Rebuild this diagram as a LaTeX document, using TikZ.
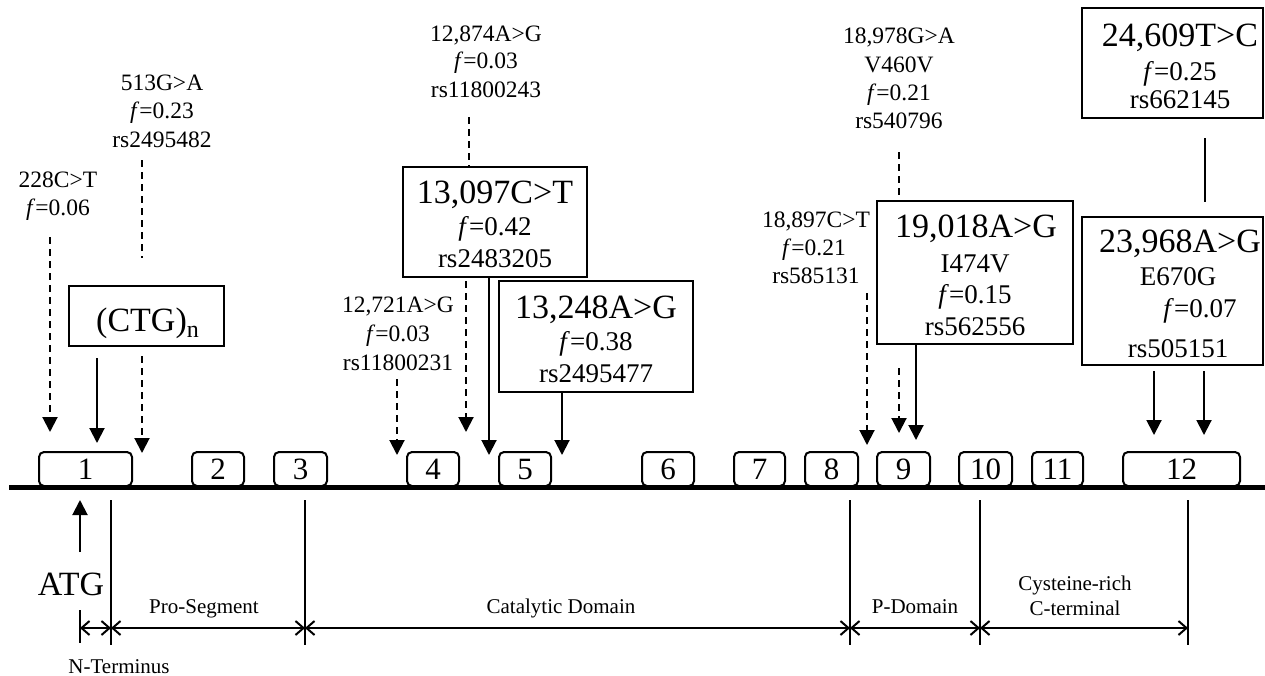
\documentclass[tikz,border=0pt]{standalone}
\usepackage{fontspec}
\setmainfont{Liberation Serif}
\usetikzlibrary{arrows.meta}
\begin{document}
\begin{tikzpicture}[x=1pt,y=-1pt,
  sm/.style={font=\fontsize{23.5}{28.5}\selectfont, inner sep=0pt, anchor=base},
  md/.style={font=\fontsize{27}{32}\selectfont, inner sep=0pt, anchor=base},
  bg/.style={font=\fontsize{34}{40}\selectfont, inner sep=0pt, anchor=base},
  dom/.style={font=\fontsize{21}{25}\selectfont, inner sep=0pt, anchor=base},
  snpbox/.style={draw, line width=2pt, inner sep=0pt},
  exon/.style={draw, line width=2pt, rounded corners=5pt, minimum height=34pt, inner sep=0pt, font=\fontsize{31}{36}\selectfont},
  dsh/.style={line width=2pt, dash pattern=on 7pt off 5pt},
  sol/.style={line width=2pt},
  tip/.style={-{Triangle[length=15pt,width=15pt]}},
  dimarrow/.style={line width=2pt, {Straight Barb[length=8pt,width=14pt]}-{Straight Barb[length=8pt,width=14pt]}},
]
\useasboundingbox (0,0) rectangle (1265,675);
\fill[white] (0,0) rectangle (1265,675);

% exons
\node[exon, minimum width=93pt] (e1) at (85.5,469) {1};
\node[exon, minimum width=52pt] (e2) at (218,469) {2};
\node[exon, minimum width=53pt] (e3) at (300.5,469) {3};
\node[exon, minimum width=52pt] (e4) at (433,469) {4};
\node[exon, minimum width=52pt] (e5) at (525,469) {5};
\node[exon, minimum width=52pt] (e6) at (668,469) {6};
\node[exon, minimum width=51pt] (e7) at (759.5,469) {7};
\node[exon, minimum width=53pt] (e8) at (831.5,469) {8};
\node[exon, minimum width=53pt] (e9) at (903.5,469) {9};
\node[exon, minimum width=53pt] (e10) at (985.5,469) {10};
\node[exon, minimum width=51pt] (e11) at (1057.5,469) {11};
\node[exon, minimum width=117pt] (e12) at (1181.5,469) {12};

% gene axis
\draw[line width=5pt] (9,487) -- (1265,487);

% free labels
\node[sm] (l228a) at (58,187) {228C>T};
\node[sm] (l228b) at (58,215) {\textit{f}=0.06};
\node[sm] (l513a) at (162,90) {513G>A};
\node[sm] (l513b) at (162,118) {\textit{f}=0.23};
\node[sm] (l513c) at (162,147) {rs2495482};
\node[sm] (l12874a) at (486,41) {12,874A>G};
\node[sm] (l12874b) at (486,68) {\textit{f}=0.03};
\node[sm] (l12874c) at (486,97) {rs11800243};
\node[sm] (l12721a) at (398,312) {12,721A>G};
\node[sm] (l12721b) at (398,341) {\textit{f}=0.03};
\node[sm] (l12721c) at (398,370) {rs11800231};
\node[sm] (l18978a) at (899,43) {18,978G>A};
\node[sm] (l18978b) at (899,72) {V460V};
\node[sm] (l18978c) at (899,100) {\textit{f}=0.21};
\node[sm] (l18978d) at (899,128) {rs540796};
\node[sm] (l18897a) at (816,227) {18,897C>T};
\node[sm] (l18897b) at (814,255) {\textit{f}=0.21};
\node[sm] (l18897c) at (816,283) {rs585131};

% boxes
\node[snpbox, minimum width=155pt, minimum height=60pt] (bctg) at (146.5,316) {};
\node[bg] (tctg) at (147.5,331) {(CTG)\raisebox{-6pt}{\fontsize{24}{24}\selectfont n}};

\node[snpbox, minimum width=184pt, minimum height=110pt] (b13097) at (495,222) {};
\node[bg] (t13097a) at (495,203) {13,097C>T};
\node[md] (t13097b) at (495,235) {\textit{f}=0.42};
\node[md] (t13097c) at (495,267) {rs2483205};

\node[snpbox, minimum width=194pt, minimum height=111pt] (b13248) at (596,336.5) {};
\node[bg] (t13248a) at (596,318) {13,248A>G};
\node[md] (t13248b) at (596,350) {\textit{f}=0.38};
\node[md] (t13248c) at (596,382) {rs2495477};

\node[snpbox, minimum width=196pt, minimum height=143pt] (b19018) at (975,272.5) {};
\node[bg] (t19018a) at (976,237) {19,018A>G};
\node[md] (t19018b) at (975,272) {I474V};
\node[md] (t19018c) at (975,303) {\textit{f}=0.15};
\node[md] (t19018d) at (975,335) {rs562556};

\node[snpbox, minimum width=181pt, minimum height=148pt] (b23968) at (1172.5,291) {};
\node[bg] (t23968a) at (1180,252) {23,968A>G};
\node[md] (t23968b) at (1178,285) {E670G};
\node[md] (t23968c) at (1200,317) {\textit{f}=0.07};
\node[md] (t23968d) at (1178,357) {rs505151};

\node[snpbox, minimum width=181pt, minimum height=110pt] (b24609) at (1172.5,63) {};
\node[bg] (t24609a) at (1180,46) {24,609T>C};
\node[md] (t24609b) at (1180,80) {\textit{f}=0.25};
\node[md] (t24609c) at (1180,108) {rs662145};

% arrow end points
\coordinate (p228) at (50,432);
\coordinate (pctg) at (97,443);
\coordinate (p513) at (142,453);
\coordinate (p12721) at (397,455);
\coordinate (p12874) at (466,432);
\coordinate (p13097) at (489,455);
\coordinate (p13248) at (562,455);
\coordinate (p18897) at (867,445);
\coordinate (p18978) at (899,433);
\coordinate (p19018) at (916,440);
\coordinate (p23968a) at (1154,435);
\coordinate (p23968b) at (1204,435);

% connectors
\draw[dsh,tip] (50,237) -- (p228);
\draw[sol,tip] ([yshift=-11pt]bctg.south -| pctg) -- (pctg);
\draw[dsh] (142,160) -- (142,258);
\draw[dsh,tip] ([yshift=-9pt]bctg.south -| p513) -- (p513);
\draw[dsh,tip] (397,379) -- (p12721);
\draw[dsh] (469,117) -- (b13097.north -| 469,0);
\draw[dsh,tip] ([yshift=-3pt]b13097.south -| p12874) -- (p12874);
\draw[sol,tip] (b13097.south -| p13097) -- (p13097);
\draw[sol,tip] (b13248.south -| p13248) -- (p13248);
\draw[dsh] (899,152) -- (b19018.north -| 899,0);
\draw[dsh,tip] (899,368) -- (p18978);
\draw[dsh,tip] (867,293) -- (p18897);
\draw[sol,tip] (b19018.south -| p19018) -- (p19018);
\draw[sol] ([yshift=-19pt]b24609.south -| 1205,0) -- ([yshift=14pt]b23968.north -| 1205,0);
\draw[sol,tip] ([yshift=-5pt]b23968.south -| p23968a) -- (p23968a);
\draw[sol,tip] ([yshift=-5pt]b23968.south -| p23968b) -- (p23968b);

% domain ticks
\draw[sol] (80,610) -- (80,643);
\draw[sol] (111,500) -- (111,645);
\draw[sol] (305,500) -- (305,645);
\draw[sol] (850,500) -- (850,645);
\draw[sol] (980,500) -- (980,645);
\draw[sol] (1188,500) -- (1188,645);

\coordinate (d0) at (80,628);
\coordinate (d1) at (111,628);
\coordinate (d2) at (305,628);
\coordinate (d3) at (850,628);
\coordinate (d4) at (980,628);
\coordinate (d5) at (1188,628);
\draw[dimarrow] (d0) -- (d1);
\draw[dimarrow] (d1) -- (d2);
\draw[dimarrow] (d2) -- (d3);
\draw[dimarrow] (d3) -- (d4);
\draw[dimarrow] (d4) -- (d5);

% ATG start
\coordinate (atgtip) at (80,500);
\node[bg] (atg) at (71,595) {ATG};
\draw[sol,tip] (80,552) -- (atgtip);

% domain labels
\node[dom] (pro) at (204,613) {Pro-Segment};
\node[dom] (cat) at (561,613) {Catalytic Domain};
\node[dom] (pdom) at (915,613) {P-Domain};
\node[dom] (cys1) at (1075,590) {Cysteine-rich};
\node[dom] (cys2) at (1075,615) {C-terminal};
\node[dom] (nterm) at (119,673) {N-Terminus};
\end{tikzpicture}
\end{document}
